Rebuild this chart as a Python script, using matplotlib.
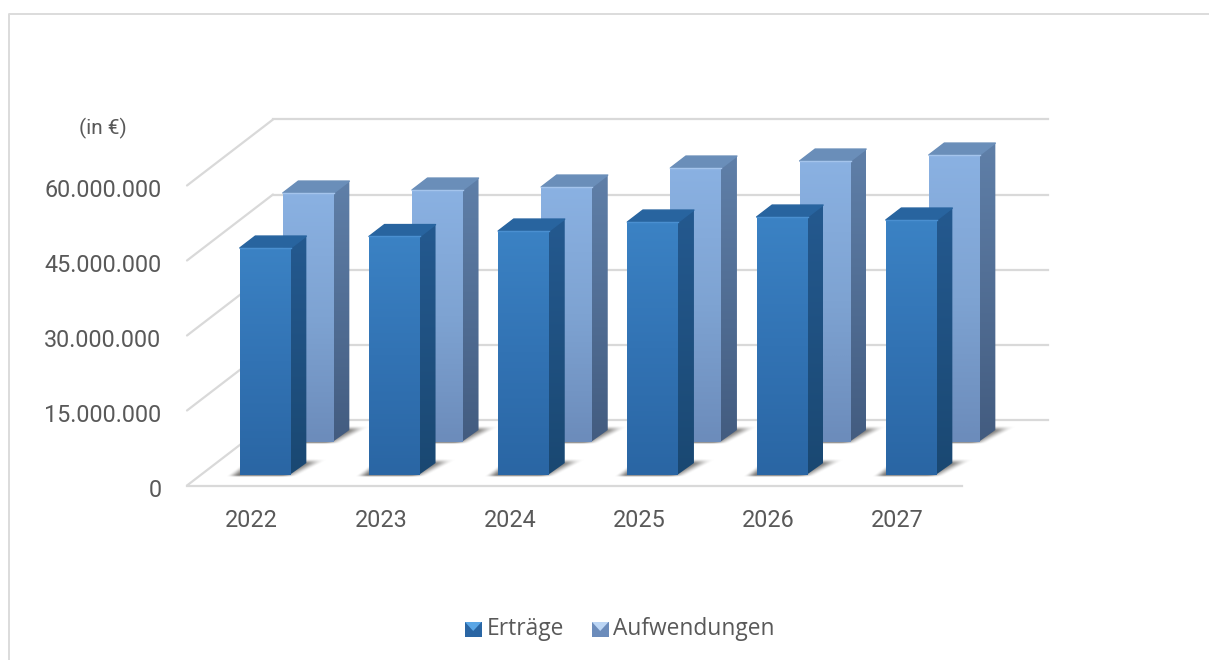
import numpy as np
import matplotlib
matplotlib.use('Agg')
import matplotlib.pyplot as plt
from matplotlib.colors import LinearSegmentedColormap
from matplotlib.patches import Polygon

years = ['2022', '2023', '2024', '2025', '2026', '2027']
ertraege = [45400000, 47700000, 48800000, 50600000, 51600000, 51000000]
aufwendungen = [49800000, 50400000, 51000000, 54800000, 56200000, 57400000]
y_ticks = [0, 15000000, 30000000, 45000000, 60000000]
y_labels = ['0', '15.000.000', '30.000.000', '45.000.000', '60.000.000']

W, H = 1209, 660
PX_X = 129.2          # pixels per category
PX_Y = 5.0 / 1e6      # pixels per euro
X0 = 251.6            # pixel of first category, front plane
Y0 = 485.5            # pixel of zero, front plane
DX = 86 / PX_X        # full depth in data units
DY = 66 / PX_Y


def proj(x, v, d):
    return x + d * DX, v + d * DY


def px(x, y):
    return (x - X0) / PX_X, (Y0 - y) / PX_Y


def grad(ax, pts, c_top, c_bot, zorder):
    pts = np.array(pts)
    cmap = LinearSegmentedColormap.from_list('g', [c_top, c_bot])
    im = ax.imshow(np.linspace(0, 1, 64).reshape(-1, 1), cmap=cmap, aspect='auto', zorder=zorder,
                   extent=(pts[:, 0].min(), pts[:, 0].max(), pts[:, 1].min(), pts[:, 1].max()),
                   origin='upper', interpolation='bilinear')
    poly = Polygon(pts, closed=True, transform=ax.transData, facecolor='none', edgecolor='none', zorder=zorder)
    ax.add_patch(poly)
    im.set_clip_path(poly)


def ramp(t):
    t = np.clip(t, 0, 1)
    return t * t * (3 - 2 * t)


def shadow(ax, x, w, d1, d2, zorder):
    # soft shadow on the floor, an alpha image in skewed floor coordinates
    left, right = x - w / 2, x + w / 2
    x1, y1 = proj(left - 0.16, 0, d1 - 0.06)
    x2, y2 = proj(right + 0.30, 0, d2 + 0.09)
    uu, vv = np.meshgrid(np.linspace(x1, x2, 120), np.linspace(y2, y1, 50))
    dd = vv / DY
    ss = uu - dd * DX
    right_edge = right + 0.07 + 0.30 * (dd - d1)
    a = ramp((ss - (left - 0.10)) / 0.10) * ramp((right_edge - ss) / 0.14)
    a = a * ramp((dd - (d1 - 0.035)) / 0.035) * ramp((d2 + 0.07 - dd) / 0.09)
    img = np.zeros(a.shape + (4,))
    img[..., :3] = (0.27, 0.26, 0.25)
    img[..., 3] = a * 0.72
    ax.imshow(img, aspect='auto', extent=(x1, x2, y1, y2), origin='upper', interpolation='bilinear', zorder=zorder)


def bar3d(ax, x, v, w, d1, d2, cols, zorder):
    left, right = x - w / 2, x + w / 2
    shadow(ax, x, w, d1, d2, zorder)
    a = proj(right - 0.01, 0, d1)
    b = proj(right, 0, d2)
    c = proj(right, v, d2)
    e = proj(right, v, d1)
    e2 = proj(right - 0.01, v, d1)
    grad(ax, [a, b, c, e2], cols['side_top'], cols['side_bot'], zorder + 0.1)
    f = proj(left, v, d1)
    g = proj(left, v, d2)
    ax.add_patch(Polygon([f, e, c, g], closed=True, facecolor=cols['top'], edgecolor=cols['top'],
                         linewidth=1.0, joinstyle='round', zorder=zorder + 0.2))
    base = proj(x, 0, d1)
    top = proj(x, v, d1)
    rect = ax.bar(base[0], v, width=w, bottom=base[1], color='none', zorder=zorder + 0.3)[0]
    cmap = LinearSegmentedColormap.from_list('g', [cols['face_top'], cols['face_mid'], cols['face_bot']])
    im = ax.imshow(np.linspace(0, 1, 64).reshape(-1, 1), cmap=cmap, aspect='auto', zorder=zorder + 0.3,
                   extent=(base[0] - w / 2, base[0] + w / 2, base[1], top[1]),
                   origin='upper', interpolation='bilinear')
    im.set_clip_path(rect)
    ax.plot([f[0], e[0]], [f[1], e[1]], color=cols['edge'], lw=1.0, zorder=zorder + 0.4)


fig = plt.figure(figsize=(W / 100, H / 100), dpi=100)
plt.rcParams['font.family'] = ['Roboto', 'DejaVu Sans']
ax = fig.add_axes([0, 0, 1, 1])
ax.axis('off')

GRID = '#d9d9d9'
x_end = len(years) - 0.5
for t in y_ticks:
    ax.plot([proj(-0.5, t, 0)[0], proj(-0.5, t, 1)[0]], [proj(-0.5, t, 0)[1], proj(-0.5, t, 1)[1]],
            color=GRID, lw=1.6, zorder=1, solid_capstyle='round')
    ax.plot([proj(-0.5, t, 1)[0], proj(x_end, t, 1)[0]], [proj(-0.5, t, 1)[1], proj(x_end, t, 1)[1]],
            color=GRID, lw=1.6, zorder=1)
ax.plot([-0.5, x_end], [0, 0], color=GRID, lw=1.6, zorder=1)

front = dict(face_top='#3b82c4', face_mid='#3273b4', face_bot='#2a66a4', side_top='#24598f', side_bot='#1a4872',
             top='#28649f', edge='#4a8fd0')
back = dict(face_top='#8ab1e2', face_mid='#7ea3d2', face_bot='#6c8cbb', side_top='#5f7fa8', side_bot='#435c80',
            top='#6a8eb9', edge='#a4c4ec')

W_BAR = 51 / PX_X
for i in range(len(years)):
    bar3d(ax, i, aufwendungen[i], W_BAR, 0.66, 0.84, back, 2 + i * 0.01)
for i in range(len(years)):
    bar3d(ax, i, ertraege[i], W_BAR, 0.16, 0.34, front, 3 + i * 0.01)

TXT = '#595959'
for t, lab in zip(y_ticks, y_labels):
    x, y = px(161.5, Y0 - t * PX_Y + 11.5)
    ax.text(x, y, lab, ha='right', va='baseline', fontsize=16.8, color=TXT, zorder=5)
for i, yr in enumerate(years):
    ax.text(i, px(0, 527)[1], yr, ha='center', va='baseline', fontsize=16.8, color=TXT, zorder=5)
ax.text(*px(102.5, 134), '(in €)', ha='center', va='baseline', fontsize=15, color=TXT, zorder=5)

# legend
for x1, name, dark, light, c_txt in [(465, 'Erträge', '#2a66a4', '#5aa6e6', 487), (592, 'Aufwendungen', '#6c8cbb', '#bcd6f5', 613)]:
    grad(ax, [px(x1, 622), px(x1 + 16.5, 622), px(x1 + 16.5, 637), px(x1, 637)], dark, dark, 5)
    ax.add_patch(Polygon([px(x1, 622), px(x1 + 16.5, 622), px(x1 + 8.2, 631)], closed=True, facecolor=light,
                         edgecolor='none', zorder=5.1))
    ax.text(*px(c_txt, 635), name, ha='left', va='baseline', fontsize=16.4, color=TXT, family=['Open Sans', 'DejaVu Sans'], zorder=5)

# outer frame, only left and top are visible
FRAME = '#dcdcdc'
ax.plot(*zip(px(9, 660), px(9, 14), px(1209, 14)), color=FRAME, lw=1.4, zorder=0.5)

ax.set_xlim(px(0, 0)[0], px(W, 0)[0])
ax.set_ylim(px(0, H)[1], px(0, 0)[1])
fig.savefig('out.png', dpi=100)
